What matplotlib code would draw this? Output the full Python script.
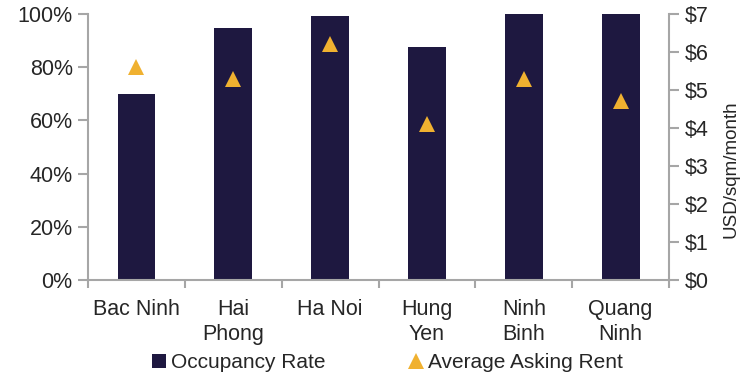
import matplotlib.pyplot as plt
from matplotlib.lines import Line2D
from matplotlib.ticker import FuncFormatter

plt.rcParams['font.family'] = ['Liberation Sans', 'DejaVu Sans']

# data
regions = ["Bac Ninh", "Hai\nPhong", "Ha Noi", "Hung\nYen", "Ninh\nBinh", "Quang\nNinh"]
occupancy = [70, 94.7, 99.2, 87.6, 100, 100]     # %
rent = [5.6, 5.3, 6.2, 4.1, 5.3, 4.7]             # USD/sqm/month

bar_color = "#1e1840"
tri_color = "#f0b130"
grey = "#a6a6a6"
txt = "#262626"

fig = plt.figure(figsize=(7.56, 3.91), dpi=100)
fig.subplots_adjust(left=0.1164, right=0.885, top=0.964, bottom=0.284)
ax = fig.add_subplot(111)
ax2 = ax.twinx()

x = list(range(len(regions)))
ax.bar(x, occupancy, width=0.39, color=bar_color, zorder=2)
ax2.plot(x, rent, linestyle="none", marker="^", markersize=11,
         color=tri_color, markeredgewidth=0, zorder=3)

ax.set_xlim(-0.5, len(regions) - 0.5)
ax.set_ylim(0, 100)
ax2.set_ylim(0, 7)
ax.set_yticks(range(0, 101, 20))
ax.yaxis.set_major_formatter(FuncFormatter(lambda v, p: f"{v:.0f}%"))
ax2.set_yticks(range(0, 8))
ax2.yaxis.set_major_formatter(FuncFormatter(lambda v, p: f"${v:.0f}"))

ax.set_xticks(x)
ax.set_xticklabels(regions, linespacing=1.22)
ax.set_xticks([i - 0.5 for i in range(len(regions) + 1)], minor=True)
ax.tick_params(axis="x", which="major", length=0, pad=14, labelsize=15.5, labelcolor=txt)
ax.tick_params(axis="x", which="minor", length=6, width=1.5, color=grey)
ax.tick_params(axis="y", length=7, width=1.5, color=grey, labelsize=15.5, labelcolor=txt, pad=4)
ax2.tick_params(axis="y", length=7, width=1.5, color=grey, labelsize=15.5, labelcolor=txt, pad=4)

for a in (ax, ax2):
    a.spines["top"].set_visible(False)
    for s in ("left", "right", "bottom"):
        a.spines[s].set_color(grey)
        a.spines[s].set_linewidth(1.5)
ax.spines["right"].set_visible(False)
ax2.spines["left"].set_visible(False)
ax2.spines["bottom"].set_visible(False)

ax2.set_ylabel("USD/sqm/month", fontsize=13.5, color=txt, labelpad=10)
ax2.yaxis.label.set_y(0.417)

handles = [
    Line2D([], [], linestyle="none", marker="s", markersize=10, color=bar_color, markeredgewidth=0),
    Line2D([], [], linestyle="none", marker="^", markersize=12, color=tri_color, markeredgewidth=0),
]
fig.legend(handles, ["Occupancy Rate", "Average Asking Rent"], loc="center",
           bbox_to_anchor=(0.513, 0.072), ncol=2, frameon=False, fontsize=15,
           handlelength=0.6, handletextpad=0.3, columnspacing=4.0, labelcolor=txt)

fig.savefig("out.png", dpi=100)
